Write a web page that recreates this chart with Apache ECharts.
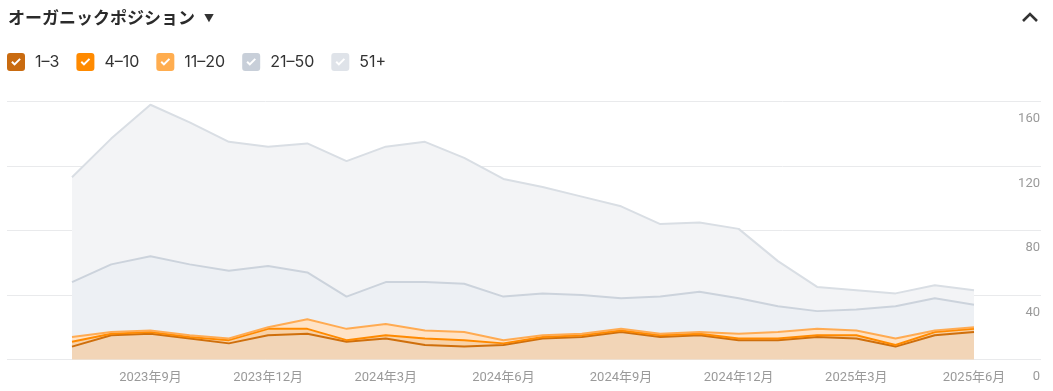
<!DOCTYPE html>
<html><head><meta charset="utf-8">
<script src="https://cdn.jsdelivr.net/npm/echarts@6/dist/echarts.min.js"></script>
<style>html,body{margin:0;padding:0;background:#fff}#c{width:1053px;height:391px}</style>
</head><body><div id="c"></div>
<script>
// Month categories (x axis)
const months = ['2023年7月','2023年8月','2023年9月','2023年10月','2023年11月','2023年12月',
  '2024年1月','2024年2月','2024年3月','2024年4月','2024年5月','2024年6月',
  '2024年7月','2024年8月','2024年9月','2024年10月','2024年11月','2024年12月',
  '2025年1月','2025年2月','2025年3月','2025年4月','2025年5月','2025年6月'];
// Labeled months on the x axis
const xTickLabels = ['2023年9月','2023年12月','2024年3月','2024年6月','2024年9月','2024年12月','2025年3月','2025年6月'];
// Y axis ticks
const yTicks = [0, 40, 80, 120, 160];

// Series values (stacked counts per position bucket)
const pos1to3   = [8,15,16,13,10,15,16,11,13,9,8,9,13,14,17,14,15,12,12,14,13,8,15,17];
const pos4to10  = [3,1,1,1,2,4,3,1,2,4,4,1,1,1,1,1,1,1,1,1,2,1,2,2];
const pos11to20 = [3,1,1,1,1,1,6,7,7,5,5,2,1,1,1,1,1,3,4,4,3,4,1,1];
const pos21to50 = [34,42,46,44,42,38,29,20,26,30,30,27,26,24,19,23,25,22,16,11,13,20,20,14];
const pos51plus = [65,78,94,88,80,74,80,84,84,87,78,73,66,61,57,45,43,43,28,15,12,8,8,9];

const names = ['1–3','4–10','11–20','21–50','51+'];
const values = [pos1to3, pos4to10, pos11to20, pos21to50, pos51plus];
const lineColors = ['#cf6f0c','#ff8a00','#ffab52','#ccd3dc','#d9dee4'];
const areaColors = ['#f2d5b7','#f8d2a8','#ffe3c6','#edf0f4','#f3f4f6'];
const boxColors  = ['#c96b10','#ff8a00','#ffad4f','#c8cfd9','#dfe3e9'];

const checkIcon = 'path://M3,0 H15 Q18,0 18,3 V15 Q18,18 15,18 H3 Q0,18 0,15 V3 Q0,0 3,0 Z M4.2,9.4 L7.6,12.8 L13.8,6.6 L12.4,5.2 L7.6,10 L5.6,8 Z';

const labeledIdx = xTickLabels.map(l => months.indexOf(l));
const TOP = 101.5, BOTTOM = 31.5;

const chart = echarts.init(document.getElementById('c'));
chart.setOption({
  animation: false,
  title: {
    left: 8, top: 6, padding: 0,
    text: '{t|オーガニックポジション}{a|▼}',
    textStyle: {
      rich: {
        t: {fontFamily: '"Noto Sans CJK JP"', fontWeight: 'bold', fontSize: 17, color: '#2b2b2b', lineHeight: 24},
        a: {fontFamily: '"Noto Sans CJK JP"', fontSize: 10, color: '#333', lineHeight: 24, padding: [0,0,0,9]}
      }
    }
  },
  legend: {
    left: 7, top: 53, padding: 0,
    itemWidth: 18, itemHeight: 18, itemGap: 17,
    icon: checkIcon,
    itemStyle: {borderWidth: 0},
    textStyle: {fontFamily: 'Inter, "Noto Sans"', fontSize: 16, color: '#333', padding: [0,0,0,5]},
    data: names.map((n, i) => ({name: n, itemStyle: {color: boxColors[i]}}))
  },
  graphic: [{
    type: 'polyline', silent: true,
    shape: {points: [[1023, 21], [1030, 14], [1037, 21]]},
    style: {stroke: '#333', lineWidth: 2.6, fill: null, lineCap: 'butt', lineJoin: 'miter'}
  }],
  grid: [
    {left: 7, right: 12, top: TOP, bottom: BOTTOM},
    {left: 72, right: 79, top: TOP, bottom: BOTTOM}
  ],
  xAxis: [
    {gridIndex: 0, type: 'value', min: 0, max: 1, show: false},
    {
      gridIndex: 1, type: 'category', data: months, boundaryGap: false,
      axisLine: {show: false}, axisTick: {show: false}, splitLine: {show: false},
      axisLabel: {
        interval: (idx) => labeledIdx.includes(idx),
        color: '#9a9a9a', fontSize: 13, margin: 12,
        fontFamily: 'Roboto, "Noto Sans CJK JP"'
      }
    }
  ],
  yAxis: [
    {
      gridIndex: 0, type: 'value', position: 'right',
      min: yTicks[0], max: yTicks[yTicks.length-1], interval: 40,
      axisLine: {show: false}, axisTick: {show: false},
      splitLine: {lineStyle: {color: '#e9eaec', width: 1}},
      axisLabel: {
        inside: true, margin: 1, verticalAlign: 'top', padding: [11,0,0,0],
        color: '#9a9a9a', fontSize: 13, fontFamily: 'Roboto, "Noto Sans"'
      }
    },
    {
      gridIndex: 1, type: 'value',
      min: yTicks[0], max: yTicks[yTicks.length-1], interval: 40,
      show: false, splitLine: {show: false}
    }
  ],
  series: names.map((n, i) => ({
    name: n, type: 'line', stack: 'total',
    xAxisIndex: 1, yAxisIndex: 1,
    symbol: 'none', smooth: false,
    color: boxColors[i],
    lineStyle: {color: lineColors[i], width: 2},
    areaStyle: {color: areaColors[i], opacity: 1},
    data: values[i]
  }))
});
</script>
</body></html>
